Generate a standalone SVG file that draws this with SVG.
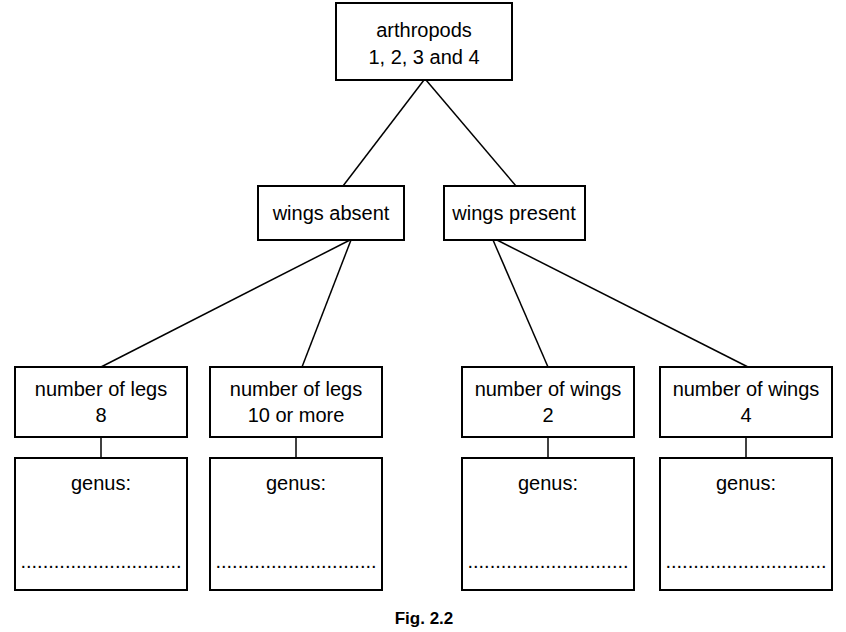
<svg xmlns="http://www.w3.org/2000/svg" width="846" height="632" viewBox="0 0 846 632">
<style>
rect{fill:#fff;stroke:#000;stroke-width:2}
line{stroke:#000;stroke-width:1.5}
text{font-family:"Liberation Sans",Arial,sans-serif;font-size:20px;text-anchor:middle;fill:#000}
</style>
<rect x="0" y="0" width="846" height="632" style="stroke:none"/>
<g id="connectors">
<line x1="424" y1="80" x2="343" y2="186"/>
<line x1="426" y1="80" x2="516" y2="186"/>
<line x1="350" y1="240" x2="101" y2="367"/>
<line x1="351" y1="240" x2="302" y2="367"/>
<line x1="493" y1="240" x2="548" y2="367"/>
<line x1="497" y1="240" x2="748" y2="367"/>
<line x1="101" y1="437" x2="101" y2="458"/>
<line x1="296" y1="437" x2="296" y2="458"/>
<line x1="548" y1="437" x2="548" y2="458"/>
<line x1="746" y1="437" x2="746" y2="458"/>
</g>
<g id="top"><rect x="336" y="3" width="176" height="77"/><text x="424" y="37">arthropods</text><text x="424" y="64">1, 2, 3 and 4</text></g>
<g id="absent"><rect x="258" y="186" width="146" height="54"/><text x="331" y="220">wings absent</text></g>
<g id="present"><rect x="444" y="186" width="141" height="54"/><text x="514" y="220">wings present</text></g>
<g id="legs8"><rect x="15" y="367" width="172" height="70"/><text x="101" y="396">number of legs</text><text x="101" y="422">8</text></g>
<g id="legs10"><rect x="210" y="367" width="172" height="70"/><text x="296" y="396">number of legs</text><text x="296" y="422">10 or more</text></g>
<g id="wings2"><rect x="462" y="367" width="172" height="70"/><text x="548" y="396">number of wings</text><text x="548" y="422">2</text></g>
<g id="wings4"><rect x="660" y="367" width="172" height="70"/><text x="746" y="396">number of wings</text><text x="746" y="422">4</text></g>
<g id="g1"><rect x="15" y="458" width="172" height="132"/><text x="101" y="490">genus:</text><text x="101" y="568">.............................</text></g>
<g id="g2"><rect x="210" y="458" width="172" height="132"/><text x="296" y="490">genus:</text><text x="296" y="568">.............................</text></g>
<g id="g3"><rect x="462" y="458" width="172" height="132"/><text x="548" y="490">genus:</text><text x="548" y="568">.............................</text></g>
<g id="g4"><rect x="660" y="458" width="172" height="132"/><text x="746" y="490">genus:</text><text x="746" y="568">.............................</text></g>
<text x="424" y="624" style="font-weight:bold;font-size:17px">Fig. 2.2</text>
</svg>
